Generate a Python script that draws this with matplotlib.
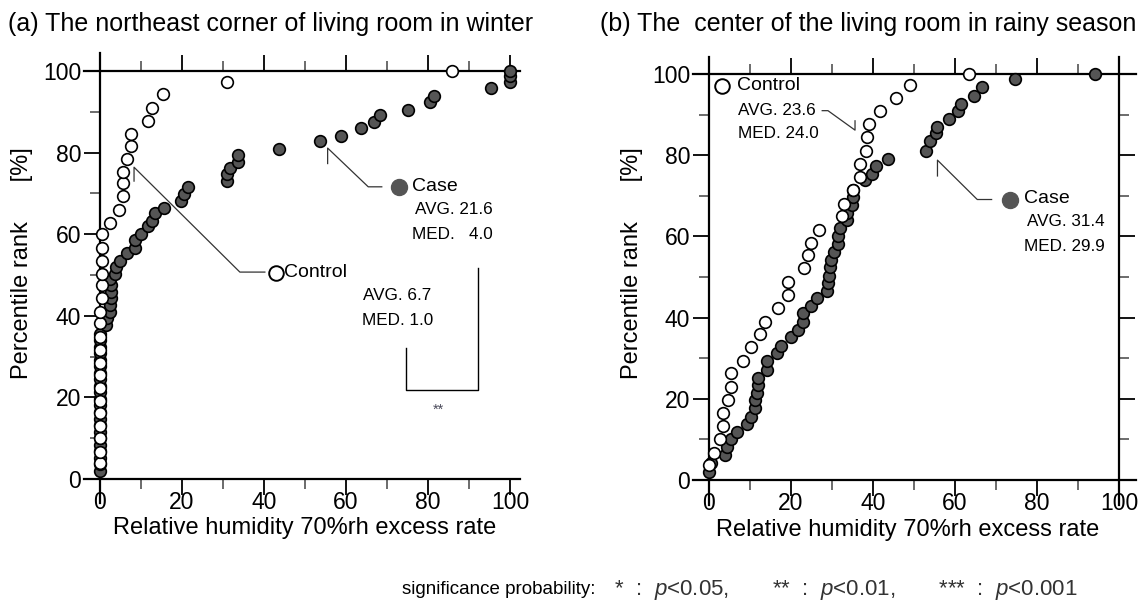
import matplotlib
matplotlib.use("Agg")
import matplotlib.pyplot as plt
from matplotlib.ticker import MultipleLocator
from matplotlib import font_manager

plt.rcParams['font.family'] = ['Liberation Sans', 'DejaVu Sans']
plt.rcParams['mathtext.fontset'] = 'custom'
plt.rcParams['mathtext.it'] = 'Liberation Sans:italic'
plt.rcParams['mathtext.rm'] = 'Liberation Sans'

# ---------------- data ----------------
# (a) northeast corner, winter
a_ctrl_x = [0, 0, 0, 0, 0, 0, 0, 0, 0, 0, 0, 0, 0, 0.4, 0.4, 0.6, 0.6, 0.6, 0.6,
            2.4, 4.7, 5.5, 5.7, 5.7, 6.5, 7.5, 7.5, 11.8, 12.7, 15.4, 30.9, 85.8]
a_ctrl_y = [3.8, 6.7, 10.0, 13.0, 16.1, 19.2, 22.4, 25.5, 28.5, 31.6, 34.9, 38.1,
            41.0, 44.3, 47.5, 50.2, 53.4, 56.7, 60.0, 62.8, 65.9, 69.3, 72.6, 75.2,
            78.4, 81.6, 84.5, 87.8, 90.9, 94.3, 97.2, 100.0]
a_case_x = [0, 0, 0, 0, 0, 0, 0, 0, 0, 0, 0, 0, 0, 0, 0, 0, 0, 0, 0, 0, 0, 0,
            1.5, 1.6, 2.4, 2.4, 2.6, 2.6, 2.6, 2.4, 3.7, 3.9, 4.9, 6.5, 8.5, 8.5,
            9.9, 11.8, 12.6, 13.4, 15.6, 19.7, 20.5, 21.5, 30.9, 30.9, 31.7, 33.6,
            33.6, 43.7, 53.7, 58.7, 63.7, 66.7, 68.3, 75.2, 80.5, 81.5, 95.3,
            100, 100, 100]
a_case_y = [2.0, 3.6, 5.2, 6.8, 8.4, 10.0, 11.6, 13.2, 14.8, 16.4, 18.0, 19.6,
            21.2, 22.8, 24.4, 26.0, 27.6, 29.2, 30.8, 32.4, 34.0, 35.6,
            37.7, 39.4, 41.0, 42.6, 44.3, 45.9, 47.5, 48.9, 50.2, 52.0, 53.5, 55.3,
            56.7, 58.5, 60.0, 62.0, 63.3, 65.1, 66.5, 68.2, 69.8, 71.6, 73.1, 74.7,
            76.1, 77.6, 79.4, 80.8, 82.9, 84.1, 85.9, 87.4, 89.3, 90.5, 92.4, 93.8,
            95.7, 97.3, 98.8, 100.0]

# (b) center of living room, rainy season
b_ctrl_x = [0.1, 1.1, 2.8, 3.3, 3.3, 4.7, 5.3, 5.3, 8.2, 10.2, 12.4, 13.7, 16.9,
            19.3, 19.3, 23.2, 24.2, 24.8, 26.7, 32.4, 32.8, 35.0, 36.8, 36.8, 38.3,
            38.5, 38.9, 41.7, 45.6, 49.0, 63.5]
b_ctrl_y = [3.7, 6.7, 10.0, 13.3, 16.4, 19.7, 22.8, 26.3, 29.4, 32.7, 35.9, 39.0,
            42.3, 45.6, 48.8, 52.1, 55.3, 58.5, 61.6, 65.0, 68.1, 71.4, 74.6, 77.8,
            81.1, 84.4, 87.7, 90.9, 94.0, 97.3, 100.0]
b_case_x = [0, 0.6, 3.9, 4.5, 5.4, 6.8, 9.2, 10.2, 11.2, 11.2, 11.8, 12.0, 12.0,
            14.1, 14.1, 16.5, 17.6, 19.9, 21.8, 22.9, 22.9, 24.8, 26.3, 28.7, 29.1,
            29.3, 29.5, 29.8, 30.5, 31.4, 31.5, 32.0, 33.6, 33.6, 34.8, 35.0, 35.0,
            38.0, 39.7, 40.7, 43.7, 52.9, 53.9, 55.4, 55.7, 58.6, 60.6, 61.4, 64.5,
            66.5, 74.6, 94.1]
b_case_y = [2.0, 4.1, 6.2, 8.0, 10.0, 11.9, 13.8, 15.6, 17.7, 19.7, 21.5, 23.4,
            25.0, 27.1, 29.4, 31.2, 33.0, 35.1, 36.9, 38.8, 41.1, 42.9, 44.7, 46.6,
            48.4, 50.2, 52.4, 54.3, 56.2, 58.1, 60.1, 62.2, 64.0, 65.8, 67.7, 69.6,
            71.4, 73.9, 75.5, 77.3, 79.2, 81.1, 83.4, 85.4, 87.0, 88.9, 90.9, 92.6,
            94.6, 96.9, 98.7, 100.0]

ticks = [0, 20, 40, 60, 80, 100]
titles = ["(a) The northeast corner of living room in winter",
          "(b) The  center of the living room in rainy season"]
xlabel = "Relative humidity 70%rh excess rate"
ylabel = "Percentile rank      [%]"
a_ctrl_stats = ["AVG. 6.7", "MED. 1.0"]
a_case_stats = ["AVG. 21.6", "MED.   4.0"]
b_ctrl_stats = ["AVG. 23.6", "MED. 24.0"]
b_case_stats = ["AVG. 31.4", "MED. 29.9"]

W, H = 1143, 610
fig = plt.figure(figsize=(W / 100, H / 100), dpi=100)
axA = fig.add_axes([84 / W, 1 - 503 / H, 436 / W, 450 / H])
axB = fig.add_axes([693 / W, 1 - 505 / H, 443 / W, 448.3 / H])

CASE_FC = '#555555'


def style(ax, xlim, ylim, right_spine):
    ax.set_xlim(*xlim)
    ax.set_ylim(*ylim)
    ax.patch.set_visible(False)
    ax.spines['left'].set_position(('data', 0))
    ax.spines['bottom'].set_position(('data', 0))
    ax.spines['top'].set_position(('data', 100))
    if right_spine:
        ax.spines['right'].set_position(('data', 100))
    else:
        ax.spines['right'].set_visible(False)
    for s in ax.spines.values():
        s.set_linewidth(1.6)
    ax.set_xticks(ticks)
    ax.set_yticks(ticks)
    ax.xaxis.set_minor_locator(MultipleLocator(10))
    ax.yaxis.set_minor_locator(MultipleLocator(10))
    ax.tick_params(axis='x', which='both', direction='out', bottom=True, top=True,
                   labeltop=False, pad=-3)
    ax.tick_params(axis='y', which='both', direction='out', left=True,
                   right=right_spine, labelright=False, pad=2)
    ax.tick_params(which='major', length=11.5, width=1.3, labelsize=16.5)
    ax.tick_params(which='minor', length=7, width=1.1, color='#444444')


style(axA, (-3.9, 102.4), (-5.9, 104.4), False)
style(axB, (-3.9, 104.1), (-6.2, 104.3), True)

for ax, cx, cy, ox, oy in [(axA, a_case_x, a_case_y, a_ctrl_x, a_ctrl_y),
                           (axB, b_case_x, b_case_y, b_ctrl_x, b_ctrl_y)]:
    ax.plot(cx, cy, 'o', ms=8.4, mfc=CASE_FC, mec='black', mew=1.2,
            clip_on=False, zorder=3)
    ax.plot(ox, oy, 'o', ms=8.4, mfc='white', mec='black', mew=1.2,
            clip_on=False, zorder=4)

LC = '#333333'
LBL = 14
STAT = 12.3
# ---- annotations panel (a)
axA.plot([8.3, 8.3, 34.1, 40.2], [73.0, 76.4, 50.7, 50.7], color=LC, lw=0.9)
axA.plot([42.9], [50.5], 'o', ms=10.5, mfc='white', mec='black', mew=1.4, clip_on=False)
axA.text(44.8, 50.5, "Control", fontsize=LBL, va='center', ha='left')
axA.text(72.5, 45.0, a_ctrl_stats[0], fontsize=STAT, va='center', ha='center')
axA.text(72.5, 38.8, a_ctrl_stats[1], fontsize=STAT, va='center', ha='center')

axA.plot([55.5, 55.5, 65.4, 68.7], [77.3, 81.1, 71.6, 71.6], color=LC, lw=0.9)
axA.plot([73.0], [71.6], 'o', ms=11.5, mfc=CASE_FC, mec=CASE_FC, mew=1, clip_on=False)
axA.text(76.0, 71.8, "Case", fontsize=LBL, va='center', ha='left')
axA.text(95.8, 66.1, a_case_stats[0], fontsize=STAT, va='center', ha='right')
axA.text(95.8, 59.8, a_case_stats[1], fontsize=STAT, va='center', ha='right')

axA.plot([74.6, 74.6, 92.1, 92.1], [32.0, 21.8, 21.8, 51.6], color='black', lw=1.0)
axA.text(82.4, 16.9, "**", fontsize=10.5, color='#4a4a5a', va='center', ha='center')

# ---- annotations panel (b)
axB.plot([3.1], [97.0], 'o', ms=10.5, mfc='white', mec='black', mew=1.4, clip_on=False)
axB.text(6.8, 97.2, "Control", fontsize=LBL, va='center', ha='left')
axB.text(7.1, 91.0, b_ctrl_stats[0], fontsize=STAT, va='center', ha='left')
axB.text(7.1, 85.3, b_ctrl_stats[1], fontsize=STAT, va='center', ha='left')
axB.plot([27.6, 29.0, 35.6, 35.6], [91.0, 91.0, 86.2, 88.5], color=LC, lw=0.9)

axB.plot([55.7, 55.7, 65.4, 68.9], [74.9, 78.8, 69.1, 69.1], color=LC, lw=0.9)
axB.plot([73.3], [69.1], 'o', ms=11.5, mfc=CASE_FC, mec=CASE_FC, mew=1, clip_on=False)
axB.text(76.7, 69.3, "Case", fontsize=LBL, va='center', ha='left')
axB.text(96.4, 63.6, b_case_stats[0], fontsize=STAT, va='center', ha='right')
axB.text(96.4, 57.5, b_case_stats[1], fontsize=STAT, va='center', ha='right')

# ---- titles & labels
fig.text(8 / W, 1 - 24 / H, titles[0], fontsize=18, ha='left', va='center')
fig.text(600 / W, 1 - 24 / H, titles[1], fontsize=18, ha='left', va='center')
fig.text(305 / W, 1 - 528 / H, xlabel, fontsize=17, ha='center', va='center')
fig.text(908 / W, 1 - 530 / H, xlabel, fontsize=17, ha='center', va='center')
fig.text(22 / W, 1 - 263 / H, ylabel, fontsize=17, rotation=90,
         ha='center', va='center')
fig.text(632 / W, 1 - 263 / H, ylabel, fontsize=17, rotation=90,
         ha='center', va='center')

names = {f.name for f in font_manager.fontManager.ttflist}
if 'Liberation Sans Narrow' in names:
    nfam, nfs = ['Liberation Sans Narrow', 'Liberation Sans'], 16.5
else:
    nfam, nfs = ['Liberation Sans', 'DejaVu Sans'], 13.5
t1 = fig.text(402 / W, 1 - 590 / H, "significance probability:", fontsize=nfs,
              family=nfam, ha='left', va='center')
axB.annotate(r"   *  :  $p$<0.05,       **  :  $p$<0.01,       ***  :  $p$<0.001",
             xy=(1, 0.5), xycoords=t1, va='center', ha='left',
             fontsize=16, color='#333333')

fig.savefig("out.png", dpi=100)
